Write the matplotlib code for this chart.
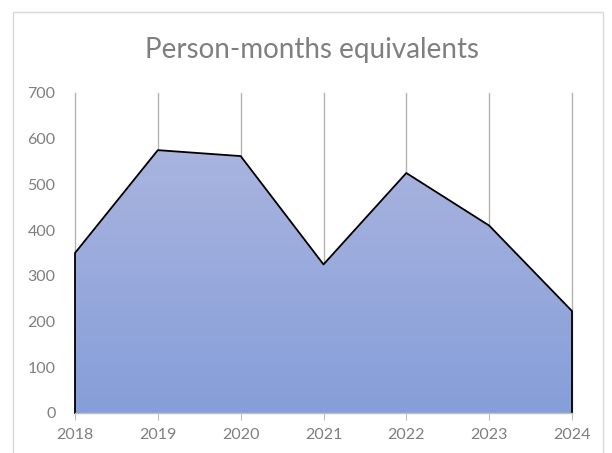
import numpy as np
import matplotlib.pyplot as plt
from matplotlib.patches import Rectangle
from matplotlib.colors import LinearSegmentedColormap

# Data
years = [2018, 2019, 2020, 2021, 2022, 2023, 2024]
person_months = [350, 575, 562, 325, 525, 410, 223]
y_ticks = [0, 100, 200, 300, 400, 500, 600, 700]

text_grey = "#7f7f7f"
plt.rcParams['font.family'] = ['Lato', 'DejaVu Sans']

fig = plt.figure(figsize=(6.12, 4.53), dpi=100)
ax = fig.add_axes([75 / 612, 40 / 453, 497 / 612, 320 / 453])

# chart border like the Excel chart area
fig.patches.append(Rectangle((13 / 612, -0.05), 590 / 612, 1.05 - 12 / 453,
                             transform=fig.transFigure, fill=False,
                             edgecolor="#d9d9d9", linewidth=1.0))

# vertical gridlines
for yr in years:
    ax.axvline(yr, color="#b3b3b3", linewidth=1.0, zorder=0, clip_on=False)

# gradient-filled area
poly = ax.fill_between(years, person_months, 0, facecolor="none",
                       edgecolor="none", zorder=1)
cmap = LinearSegmentedColormap.from_list("grad", ["#869ed9", "#a9b4df"])
grad = np.linspace(0, 1, 256).reshape(-1, 1)
img = ax.imshow(grad, cmap=cmap, aspect="auto", origin="lower",
                extent=[years[0], years[-1], 0, max(person_months)], zorder=1)
img.set_clip_path(poly.get_paths()[0], transform=ax.transData)

# outline of the area
ax.plot([years[0]] + years + [years[-1]], [0] + person_months + [0],
        color="black", linewidth=1.3, zorder=2, clip_on=False)

ax.set_xlim(years[0], years[-1])
ax.set_ylim(0, 700)
ax.set_yticks(y_ticks)
ax.set_xticks(years)

for side in ["top", "right", "left"]:
    ax.spines[side].set_visible(False)
ax.spines["bottom"].set_color("#bfbfbf")
ax.spines["bottom"].set_linewidth(1.0)
ax.spines["bottom"].set_zorder(3)

ax.tick_params(axis="x", colors="#bfbfbf", length=5, labelcolor=text_grey,
               labelsize=11.5, pad=6)
ax.tick_params(axis="y", length=0, labelcolor=text_grey, labelsize=11.5, pad=14)

fig.text(0.51, 1 - 50 / 453, "Person-months equivalents", ha="center",
         va="center", fontsize=20, color=text_grey)

fig.savefig("out.png", dpi=100)
